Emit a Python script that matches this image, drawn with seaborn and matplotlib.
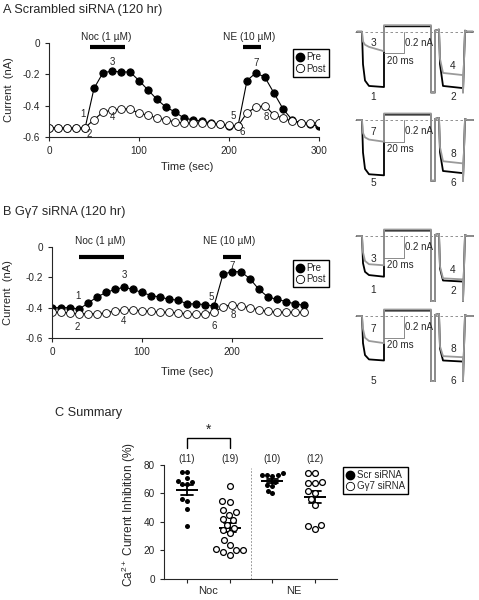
import pandas as pd
import matplotlib
matplotlib.use('Agg')
import matplotlib.pyplot as plt
from matplotlib.lines import Line2D
import seaborn as sns

# time course, panel A (scrambled siRNA)
time_a = list(range(0, 310, 10))
pre_a = [-0.54, -0.54, -0.545, -0.54, -0.545, -0.29, -0.19, -0.18, -0.185, -0.185, -0.24,
         -0.30, -0.36, -0.41, -0.44, -0.48, -0.49, -0.50, -0.51, -0.52, -0.53, -0.53,
         -0.24, -0.19, -0.22, -0.32, -0.42, -0.49, -0.51, -0.52, -0.53]
post_a = [-0.54, -0.54, -0.545, -0.545, -0.54, -0.49, -0.44, -0.43, -0.42, -0.42, -0.45,
          -0.46, -0.48, -0.49, -0.505, -0.51, -0.51, -0.51, -0.515, -0.52, -0.525, -0.53,
          -0.445, -0.41, -0.40, -0.46, -0.48, -0.50, -0.51, -0.51, -0.51]
labels_a = [('1', 38, -0.455), ('2', 45, -0.58), ('3', 70, -0.12), ('4', 71, -0.475),
            ('5', 205, -0.465), ('6', 215, -0.57), ('7', 230, -0.125), ('8', 241, -0.475)]
noc_a = (45, 84)
ne_a = (216, 235)

# time course, panel B (Ggamma7 siRNA)
time_b = list(range(0, 290, 10))
pre_b = [-0.40, -0.40, -0.40, -0.41, -0.37, -0.33, -0.30, -0.28, -0.265, -0.28, -0.30,
         -0.32, -0.33, -0.345, -0.35, -0.375, -0.375, -0.38, -0.39, -0.18, -0.163,
         -0.163, -0.21, -0.28, -0.33, -0.345, -0.36, -0.375, -0.385]
post_b = [-0.43, -0.43, -0.435, -0.44, -0.44, -0.44, -0.435, -0.42, -0.415, -0.415, -0.42,
          -0.425, -0.43, -0.43, -0.435, -0.44, -0.445, -0.44, -0.43, -0.395, -0.38,
          -0.39, -0.40, -0.415, -0.425, -0.43, -0.43, -0.43, -0.43]
labels_b = [('1', 29, -0.32), ('2', 28, -0.525), ('3', 80, -0.185), ('4', 79, -0.49),
            ('5', 177, -0.33), ('6', 180, -0.52), ('7', 200, -0.125), ('8', 201, -0.45)]
noc_b = (30, 80)
ne_b = (190, 210)

# example current traces (ms, nA)
trace_t = [2, 7, 8, 10, 14, 29, 29, 76, 76, 80, 80, 84, 85, 88, 108, 108, 110, 112, 118]
a1_black = [0, 0, -0.30, -0.45, -0.50, -0.51, 0.05, 0.05, -0.56, -0.56, 0.01, 0.02, -0.30, -0.50, -0.52, -0.56, 0.01, 0, 0]
a1_gray = [0, 0, -0.09, -0.12, -0.14, -0.18, 0.06, 0.06, -0.56, -0.56, 0.01, 0.02, -0.25, -0.38, -0.40, -0.56, 0.01, 0, 0]
a2_black = [0, 0, -0.30, -0.45, -0.50, -0.51, 0.05, 0.05, -0.56, -0.56, 0.01, 0.02, -0.30, -0.47, -0.49, -0.56, 0.01, 0, 0]
a2_gray = [0, 0, -0.12, -0.16, -0.18, -0.20, 0.06, 0.06, -0.56, -0.56, 0.01, 0.02, -0.25, -0.38, -0.40, -0.56, 0.01, 0, 0]
b1_black = [0, 0, -0.25, -0.33, -0.36, -0.375, 0.05, 0.05, -0.60, -0.60, 0.01, 0.02, -0.30, -0.41, -0.42, -0.60, 0.01, 0, 0]
b1_gray = [0, 0, -0.15, -0.23, -0.26, -0.27, 0.06, 0.06, -0.60, -0.60, 0.01, 0.02, -0.28, -0.39, -0.40, -0.60, 0.01, 0, 0]
b2_black = [0, 0, -0.25, -0.36, -0.40, -0.41, 0.05, 0.05, -0.60, -0.60, 0.01, 0.02, -0.30, -0.41, -0.42, -0.60, 0.01, 0, 0]
b2_gray = [0, 0, -0.12, -0.20, -0.23, -0.25, 0.06, 0.06, -0.60, -0.60, 0.01, 0.02, -0.28, -0.37, -0.38, -0.60, 0.01, 0, 0]

# summary
noc_scr = [75, 75, 70.5, 68, 66.5, 66.5, 69, 56, 55, 49, 37]
noc_gg7 = [65, 55, 54, 48, 47, 45, 42, 41, 38, 36, 34, 32, 27, 24, 21, 20, 19, 20, 17]
ne_scr = [73, 73, 72, 73, 74, 68, 66, 65, 62, 60]
ne_gg7 = [74, 74, 68, 67, 67, 62, 60, 56, 52, 37, 35, 38]
groups = ['Noc Scr', 'Noc Gg7', 'NE Scr', 'NE Gg7']

sns.set_style('ticks')
plt.rcParams['font.family'] = ['Liberation Sans', 'DejaVu Sans']
plt.rcParams['axes.unicode_minus'] = False
plt.rcParams['mathtext.default'] = 'regular'
plt.rcParams['axes.linewidth'] = 0.8

fig = plt.figure(figsize=(4.79, 6.0), dpi=100)
W, H = 479, 600


def box(x0, y0, x1, y1):
    return [x0 / W, 1 - y1 / H, (x1 - x0) / W, (y1 - y0) / H]


def time_course(ax, t, pre, post, labels, noc, ne, xt, bar_y):
    sns.lineplot(x=t, y=pre, ax=ax, color='black', lw=0.8, marker='o', markersize=5.2,
                 markerfacecolor='black', markeredgecolor='black', sort=False, estimator=None)
    sns.lineplot(x=t, y=post, ax=ax, color='black', lw=0.8, marker='o', markersize=5.6,
                 markerfacecolor='white', markeredgecolor='black', markeredgewidth=0.6,
                 sort=False, estimator=None)
    for s, x, y in labels:
        ax.text(x, y, s, fontsize=7, ha='center', va='center')
    ax.plot(noc, [bar_y] * 2, color='black', lw=3, solid_capstyle='butt')
    ax.plot(ne, [bar_y] * 2, color='black', lw=3, solid_capstyle='butt')
    ax.text(sum(noc) / 2 - 1, 0.04, 'Noc (1 µM)', fontsize=7.3, ha='center', va='center')
    ax.text(sum(ne) / 2 - 3, 0.04, 'NE (10 µM)', fontsize=7.3, ha='center', va='center')
    ax.set_xlim(0, 300)
    ax.set_ylim(-0.6, 0.1)
    ax.set_xticks(xt)
    ax.set_yticks([0, -0.2, -0.4, -0.6], labels=['0', '-0.2', '-0.4', '-0.6'])
    ax.tick_params(labelsize=7.2, length=3, width=0.8)
    sns.despine(ax=ax)
    ax.spines['left'].set_bounds(-0.6, 0)
    ax.spines['bottom'].set_bounds(0, 300)
    ax.set_xlabel('Time (sec)', fontsize=8)
    ax.set_ylabel('Current  (nA)', fontsize=8)
    h = [Line2D([], [], ls='none', marker='o', ms=6, mfc='black', mec='black'),
         Line2D([], [], ls='none', marker='o', ms=6, mfc='white', mec='black', mew=0.6)]
    return h


ax_a = fig.add_axes(box(49, 27.3, 319, 137))
ax_b = fig.add_axes(box(52, 231.8, 322, 338))

h = time_course(ax_a, time_a, pre_a, post_a, labels_a, noc_a, ne_a, [0, 100, 200, 300], -0.027)
ax_a.xaxis.set_label_coords(0.51, -0.23)
ax_a.yaxis.set_label_coords(-0.13, 0.43)
ax_a.legend(h, ['Pre', 'Post'], loc='upper left', bbox_to_anchor=(0.904, 0.80), fontsize=7,
            frameon=True, fancybox=False, edgecolor='black', framealpha=1, borderpad=0.3,
            handletextpad=0.2, handlelength=0.9, labelspacing=0.15, borderaxespad=0)

h = time_course(ax_b, time_b, pre_b, post_b, labels_b, noc_b, ne_b, [0, 100, 200], -0.064)
ax_b.xaxis.set_label_coords(0.50, -0.27)
ax_b.yaxis.set_label_coords(-0.145, 0.43)
ax_b.legend(h, ['Pre', 'Post'], loc='upper left', bbox_to_anchor=(0.893, 0.734), fontsize=7,
            frameon=True, fancybox=False, edgecolor='black', framealpha=1, borderpad=0.3,
            handletextpad=0.2, handlelength=0.9, labelspacing=0.15, borderaxespad=0)

fig.text(3 / W, 1 - 10 / H, 'A Scrambled siRNA (120 hr)', fontsize=9.2, va='center')
fig.text(3 / W, 1 - 212 / H, 'B Gγ7 siRNA (120 hr)', fontsize=9.2, va='center')
fig.text(55 / W, 1 - 413 / H, 'C Summary', fontsize=9.2, va='center')

# traces
trace_sets = [
    (31.7, a1_black, a1_gray, ['3', '1', '4', '2'], [-0.105, -0.60, -0.32, -0.60]),
    (120, a2_black, a2_gray, ['7', '5', '8', '6'], [-0.115, -0.58, -0.31, -0.58]),
    (236, b1_black, b1_gray, ['3', '1', '4', '2'], [-0.21, -0.50, -0.31, -0.51]),
    (316, b2_black, b2_gray, ['7', '5', '8', '6'], [-0.12, -0.60, -0.30, -0.60]),
]
for base, blk, gry, labs, ys in trace_sets:
    ax = fig.add_axes(box(355, base - 13, 475, base - 13 + 84.6))
    ax.axhline(0, 0.0, 0.99, color='gray', lw=0.6, ls=(0, (3, 3)))
    sns.lineplot(x=trace_t, y=blk, ax=ax, color='black', lw=1.3, sort=False, estimator=None)
    sns.lineplot(x=trace_t, y=gry, ax=ax, color='#9a9a9a', lw=1.3, sort=False, estimator=None)
    ax.plot([29, 49, 49], [-0.2, -0.2, 0], color='#777777', lw=0.6)
    ax.text(50, -0.1, '0.2 nA', fontsize=7, va='center')
    ax.text(32, -0.27, '20 ms', fontsize=7, va='center')
    for s, x, y in zip(labs, [18, 18, 98, 98], ys):
        ax.text(x, y, s, fontsize=7.3, ha='center', va='center')
    ax.set_xlim(0, 120)
    ax.set_ylim(-0.66, 0.12)
    ax.axis('off')

# summary
df = pd.DataFrame({
    'group': ['Noc Scr'] * len(noc_scr) + ['Noc Gg7'] * len(noc_gg7)
             + ['NE Scr'] * len(ne_scr) + ['NE Gg7'] * len(ne_gg7),
    'val': noc_scr + noc_gg7 + ne_scr + ne_gg7,
})
filled = df[df['group'].str.contains('Scr')]
opened = df[df['group'].str.contains('Gg7')]

ax_c = fig.add_axes(box(164, 422, 337, 579))
sns.swarmplot(data=filled, x='group', y='val', order=groups, color='black', size=3.6, ax=ax_c)
sns.swarmplot(data=opened, x='group', y='val', order=groups, color='white', edgecolor='black',
              linewidth=0.9, size=4.2, ax=ax_c)
sns.pointplot(data=df, x='group', y='val', order=groups, errorbar='se', color='black',
              marker='_', markersize=16, markeredgewidth=1.4, linestyle='none', capsize=0.28,
              err_kws={'linewidth': 1.3}, ax=ax_c)
for i, g in enumerate(groups):
    ax_c.text(i, 84, f'({(df["group"] == g).sum()})', fontsize=7, ha='center', va='center')
ax_c.plot([0, 0, 1, 1], [92, 99, 99, 92], color='black', lw=1)
ax_c.text(0.5, 99.5, '*', fontsize=10, ha='center', va='bottom')
ax_c.plot([1.5, 1.5], [0, 78], color='gray', lw=0.6, ls=(0, (2, 2)))
ax_c.set_xlim(-0.54, 3.51)
ax_c.set_ylim(0, 110)
ax_c.set_xticks([0, 1, 2, 3], labels=[''] * 4)
ax_c.set_xticks([0.5, 2.5], labels=['Noc', 'NE'], minor=True)
ax_c.tick_params(axis='x', which='minor', length=0, labelsize=8, pad=5)
ax_c.set_yticks([0, 20, 40, 60, 80])
ax_c.tick_params(which='major', labelsize=7.2, length=3, width=0.8)
sns.despine(ax=ax_c)
ax_c.spines['left'].set_bounds(0, 80)
ax_c.set_xlabel('')
ax_c.set_ylabel('Ca$^{2+}$ Current Inhibition (%)', fontsize=8.6)
ax_c.yaxis.set_label_coords(-0.15, 0.41)
hc = [Line2D([], [], ls='none', marker='o', ms=6, mfc='black', mec='black'),
      Line2D([], [], ls='none', marker='o', ms=6, mfc='white', mec='black', mew=0.6)]
ax_c.legend(hc, ['Scr siRNA', 'Gγ7 siRNA'], loc='upper left', bbox_to_anchor=(1.035, 0.713),
            fontsize=7, frameon=True, fancybox=False, edgecolor='black', framealpha=1,
            borderpad=0.3, handletextpad=0.2, handlelength=0.9, labelspacing=0.15,
            borderaxespad=0)

fig.savefig('out.png', dpi=100)
